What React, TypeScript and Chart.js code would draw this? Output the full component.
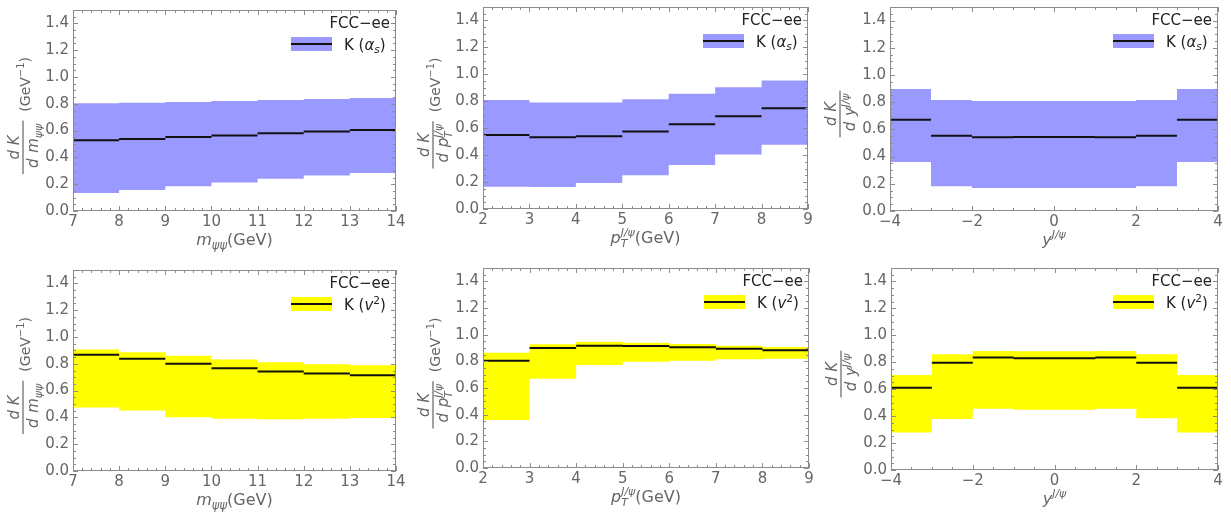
import React, { useEffect, useRef } from "react";
import { Chart, registerables } from "chart.js";

Chart.register(...registerables);

const FONT = '"DejaVu Sans", sans-serif';
const TEXT_GRAY = "#666666";
const FRAME_GRAY = "#8c8c8c";
const BLUE_BAND = "#9999ff";
const YELLOW_BAND = "#ffff00";

// ---- bin edges (x) ----
const massEdges = [7, 8, 9, 10, 11, 12, 13, 14];
const ptEdges = [2, 3, 4, 5, 6, 7, 8, 9];
const rapEdges = [-4, -3, -2, -1, 0, 1, 2, 3, 4];

// ---- tick labels ----
const massTicks = [7, 8, 9, 10, 11, 12, 13, 14];
const ptTicks = [2, 3, 4, 5, 6, 7, 8, 9];
const rapTicks = [-4, -2, 0, 2, 4];
const yTicks = [0, 0.2, 0.4, 0.6, 0.8, 1.0, 1.2, 1.4];

// ---- K(alpha_s) ----
const massAsCentral = [0.528, 0.538, 0.553, 0.563, 0.58, 0.593, 0.605];
const massAsUpper = [0.805, 0.808, 0.813, 0.82, 0.828, 0.835, 0.843];
const massAsLower = [0.135, 0.157, 0.185, 0.213, 0.24, 0.265, 0.283];

const ptAsCentral = [0.55, 0.533, 0.54, 0.575, 0.63, 0.689, 0.748];
const ptAsUpper = [0.81, 0.79, 0.79, 0.815, 0.855, 0.905, 0.954];
const ptAsLower = [0.166, 0.164, 0.193, 0.25, 0.327, 0.404, 0.478];

const rapAsCentral = [0.671, 0.553, 0.543, 0.545, 0.545, 0.543, 0.553, 0.671];
const rapAsUpper = [0.897, 0.816, 0.808, 0.808, 0.808, 0.808, 0.816, 0.897];
const rapAsLower = [0.361, 0.182, 0.17, 0.17, 0.17, 0.17, 0.182, 0.361];

// ---- K(v^2) ----
const massV2Central = [0.867, 0.837, 0.8, 0.767, 0.742, 0.727, 0.715];
const massV2Upper = [0.907, 0.887, 0.86, 0.832, 0.812, 0.797, 0.79];
const massV2Lower = [0.473, 0.451, 0.401, 0.389, 0.386, 0.389, 0.396];

const ptV2Central = [0.805, 0.9, 0.9175, 0.915, 0.905, 0.895, 0.8825];
const ptV2Upper = [0.865, 0.9275, 0.9475, 0.94, 0.93, 0.9175, 0.9075];
const ptV2Lower = [0.36, 0.67, 0.7725, 0.7975, 0.805, 0.815, 0.82];

const rapV2Central = [0.61, 0.797, 0.835, 0.83, 0.83, 0.835, 0.797, 0.61];
const rapV2Upper = [0.706, 0.859, 0.884, 0.881, 0.881, 0.884, 0.859, 0.706];
const rapV2Lower = [0.279, 0.378, 0.454, 0.447, 0.447, 0.454, 0.385, 0.279];

// ---- rich text helpers ----
type Seg = { t: string; size: number; italic?: boolean; dy?: number; dx?: number; stack?: boolean };

function segFont(s: Seg) {
  return `${s.italic ? "italic " : ""}${s.size}px ${FONT}`;
}
function measureSegs(ctx: CanvasRenderingContext2D, segs: Seg[]) {
  let x = 0, lastStart = 0, lastW = 0;
  for (const s of segs) {
    ctx.font = segFont(s);
    const w = ctx.measureText(s.t).width + (s.dx || 0);
    if (s.stack) {
      x = lastStart + Math.max(lastW, w);
      lastW = Math.max(lastW, w);
    } else {
      lastStart = x;
      lastW = w;
      x += w;
    }
  }
  return x;
}
function drawSegs(ctx: CanvasRenderingContext2D, segs: Seg[], x0: number, y: number) {
  let x = x0, lastStart = x0, lastW = 0;
  ctx.textAlign = "left";
  ctx.textBaseline = "alphabetic";
  for (const s of segs) {
    ctx.font = segFont(s);
    const w = ctx.measureText(s.t).width + (s.dx || 0);
    if (s.stack) {
      ctx.fillText(s.t, lastStart + (s.dx || 0), y + (s.dy || 0));
      x = lastStart + Math.max(lastW, w);
      lastW = Math.max(lastW, w);
    } else {
      ctx.fillText(s.t, x + (s.dx || 0), y + (s.dy || 0));
      lastStart = x;
      lastW = w;
      x += w;
    }
  }
}

// ---- label definitions ----
const massXTitle: Seg[] = [
  { t: "m", size: 16, italic: true },
  { t: "ψψ", size: 11.5, italic: true, dy: 4 },
  { t: "(GeV)", size: 16 },
];
const ptXTitle: Seg[] = [
  { t: "p", size: 16, italic: true },
  { t: "T", size: 11, italic: true, dy: 4 },
  { t: "J/ψ", size: 11, italic: true, dy: -7, stack: true },
  { t: "(GeV)", size: 16 },
];
const rapXTitle: Seg[] = [
  { t: "y", size: 16, italic: true },
  { t: "J/ψ", size: 11, italic: true, dy: -7 },
];
const yNum: Seg[] = [{ t: "d K", size: 15, italic: true }];
const massYDen: Seg[] = [
  { t: "d ", size: 15, italic: true, dx: 3 },
  { t: "m", size: 15, italic: true, dx: 1 },
  { t: "ψψ", size: 11, italic: true, dy: 4 },
];
const ptYDen: Seg[] = [
  { t: "d ", size: 15, italic: true, dx: 3 },
  { t: "p", size: 15, italic: true, dx: 1 },
  { t: "T", size: 10.5, italic: true, dy: 4 },
  { t: "J/ψ", size: 10.5, italic: true, dy: -6, stack: true },
];
const rapYDen: Seg[] = [
  { t: "d ", size: 15, italic: true, dx: 3 },
  { t: "y", size: 15, italic: true, dx: 1 },
  { t: "J/ψ", size: 10.5, italic: true, dy: -6 },
];
const gevUnits: Seg[] = [
  { t: "(GeV", size: 14 },
  { t: "−1", size: 10, dy: -6 },
  { t: ")", size: 14 },
];
const asLegend: Seg[] = [
  { t: "K (", size: 15 },
  { t: "α", size: 15, italic: true },
  { t: "s", size: 10.5, italic: true, dy: 3 },
  { t: ")", size: 15 },
];
const v2Legend: Seg[] = [
  { t: "K (", size: 15 },
  { t: "v", size: 15, italic: true },
  { t: "2", size: 10.5, dy: -6 },
  { t: ")", size: 15 },
];

type PanelCfg = {
  x: number; y: number; w: number; h: number;
  yw: number; padR: number; padT: number; xh: number;
  edges: number[]; central: number[]; upper: number[]; lower: number[];
  xTicks: number[]; xMinor: number; band: string;
  xTitle: Seg[]; yDen: Seg[]; yUnits: Seg[] | null; legend: Seg[];
};

const panels: PanelCfg[] = [
  { x: 0, y: 0, w: 410, h: 256, yw: 73, padR: 14, padT: 10, xh: 45,
    edges: massEdges, central: massAsCentral, upper: massAsUpper, lower: massAsLower,
    xTicks: massTicks, xMinor: 0.2, band: BLUE_BAND, xTitle: massXTitle, yDen: massYDen, yUnits: gevUnits, legend: asLegend },
  { x: 410, y: 0, w: 410, h: 256, yw: 73, padR: 12, padT: 7, xh: 47,
    edges: ptEdges, central: ptAsCentral, upper: ptAsUpper, lower: ptAsLower,
    xTicks: ptTicks, xMinor: 0.2, band: BLUE_BAND, xTitle: ptXTitle, yDen: ptYDen, yUnits: gevUnits, legend: asLegend },
  { x: 820, y: 0, w: 411, h: 256, yw: 70, padR: 13, padT: 7, xh: 45,
    edges: rapEdges, central: rapAsCentral, upper: rapAsUpper, lower: rapAsLower,
    xTicks: rapTicks, xMinor: 0.5, band: BLUE_BAND, xTitle: rapXTitle, yDen: rapYDen, yUnits: null, legend: asLegend },
  { x: 0, y: 256, w: 410, h: 256, yw: 73, padR: 14, padT: 14, xh: 41,
    edges: massEdges, central: massV2Central, upper: massV2Upper, lower: massV2Lower,
    xTicks: massTicks, xMinor: 0.2, band: YELLOW_BAND, xTitle: massXTitle, yDen: massYDen, yUnits: gevUnits, legend: v2Legend },
  { x: 410, y: 256, w: 410, h: 256, yw: 73, padR: 11, padT: 12, xh: 44,
    edges: ptEdges, central: ptV2Central, upper: ptV2Upper, lower: ptV2Lower,
    xTicks: ptTicks, xMinor: 0.2, band: YELLOW_BAND, xTitle: ptXTitle, yDen: ptYDen, yUnits: gevUnits, legend: v2Legend },
  { x: 820, y: 256, w: 411, h: 256, yw: 71, padR: 13, padT: 12, xh: 42,
    edges: rapEdges, central: rapV2Central, upper: rapV2Upper, lower: rapV2Lower,
    xTicks: rapTicks, xMinor: 0.5, band: YELLOW_BAND, xTitle: rapXTitle, yDen: rapYDen, yUnits: null, legend: v2Legend },
];

const stepPts = (edges: number[], vals: number[]) =>
  vals.flatMap((v, i) => [{ x: edges[i], y: v }, { x: edges[i + 1], y: v }]);
const segPts = (edges: number[], vals: number[]) =>
  vals.flatMap((v, i) => [
    { x: edges[i], y: v },
    { x: edges[i + 1], y: v },
    { x: edges[i + 1], y: null as any },
  ]);

function makeDecor(cfg: PanelCfg) {
  return {
    id: "decor",
    afterDatasetsDraw(chart: any) {
      const ctx: CanvasRenderingContext2D = chart.ctx;
      const ca = chart.chartArea;
      const xs = chart.scales.x, ys = chart.scales.y;
      ctx.save();
      ctx.strokeStyle = FRAME_GRAY;
      ctx.lineWidth = 1;
      ctx.strokeRect(Math.round(ca.left) + 0.5, Math.round(ca.top) + 0.5,
        Math.round(ca.right) - Math.round(ca.left) - 1, Math.round(ca.bottom) - Math.round(ca.top) - 1);
      ctx.beginPath();
      const xMin = cfg.edges[0], xMax = cfg.edges[cfg.edges.length - 1];
      const nx = Math.round((xMax - xMin) / cfg.xMinor);
      for (let i = 0; i <= nx; i++) {
        const v = xMin + i * cfg.xMinor;
        const major = cfg.xTicks.some((t) => Math.abs(t - v) < 1e-6);
        const L = major ? 5 : 3;
        const px = Math.round(xs.getPixelForValue(v)) + 0.5;
        ctx.moveTo(px, ca.bottom); ctx.lineTo(px, ca.bottom - L);
        ctx.moveTo(px, ca.top); ctx.lineTo(px, ca.top + L);
      }
      for (let i = 0; i <= 30; i++) {
        const v = i * 0.05;
        const major = i % 4 === 0;
        const L = major ? 5 : 3;
        const py = Math.round(ys.getPixelForValue(v)) + 0.5;
        ctx.moveTo(ca.left, py); ctx.lineTo(ca.left + L, py);
        ctx.moveTo(ca.right, py); ctx.lineTo(ca.right - L, py);
      }
      ctx.stroke();
      ctx.restore();
    },
    afterDraw(chart: any) {
      const ctx: CanvasRenderingContext2D = chart.ctx;
      const ca = chart.chartArea;
      ctx.save();
      // x title
      ctx.fillStyle = TEXT_GRAY;
      const xw = measureSegs(ctx, cfg.xTitle);
      drawSegs(ctx, cfg.xTitle, (ca.left + ca.right) / 2 - xw / 2, ca.bottom + 34);
      // y title (rotated)
      const numW = measureSegs(ctx, yNum);
      const denW = measureSegs(ctx, cfg.yDen);
      const fracW = Math.max(numW, denW) + 6;
      const unitsW = cfg.yUnits ? measureSegs(ctx, cfg.yUnits) : 0;
      const gap = cfg.yUnits ? 9 : 0;
      const total = fracW + gap + unitsW;
      const cy = (ca.top + ca.bottom) / 2 + 5;
      ctx.save();
      ctx.translate(ca.left - 50, cy + total / 2);
      ctx.rotate(-Math.PI / 2);
      drawSegs(ctx, yNum, (fracW - numW) / 2, -4);
      drawSegs(ctx, cfg.yDen, (fracW - denW) / 2, 15);
      ctx.fillRect(0, -0.6, fracW, 1.2);
      if (cfg.yUnits) drawSegs(ctx, cfg.yUnits, fracW + gap, 7);
      ctx.restore();
      // legend
      const r = ca.right, t = ca.top;
      ctx.fillStyle = "#222222";
      ctx.font = `15px ${FONT}`;
      ctx.textAlign = "right";
      ctx.textBaseline = "middle";
      ctx.fillText("FCC−ee", r - 6, t + 14);
      ctx.fillStyle = cfg.band;
      ctx.fillRect(r - 105, t + 27, 41, 14);
      ctx.strokeStyle = "#111111";
      ctx.lineWidth = 2;
      ctx.beginPath();
      ctx.moveTo(r - 105, t + 34);
      ctx.lineTo(r - 64, t + 34);
      ctx.stroke();
      ctx.fillStyle = "#222222";
      drawSegs(ctx, cfg.legend, r - 52, t + 39.5);
      ctx.restore();
    },
  };
}

function Panel({ cfg }: { cfg: PanelCfg }) {
  const ref = useRef<HTMLCanvasElement>(null);
  useEffect(() => {
    const xMin = cfg.edges[0], xMax = cfg.edges[cfg.edges.length - 1];
    const chart = new Chart(ref.current as HTMLCanvasElement, {
      type: "line",
      data: {
        datasets: [
          { data: segPts(cfg.edges, cfg.central) as any, borderWidth: 2, borderColor: "#111111", pointRadius: 0, fill: false, spanGaps: false, order: 0 },
          { data: stepPts(cfg.edges, cfg.lower) as any, borderWidth: 0, borderColor: "transparent", pointRadius: 0, fill: false, order: 1 },
          { data: stepPts(cfg.edges, cfg.upper) as any, borderWidth: 0, borderColor: "transparent", pointRadius: 0, fill: "-1", backgroundColor: cfg.band, order: 1 },
        ],
      },
      options: {
        responsive: false,
        animation: false,
        events: [],
        layout: { padding: { left: 0, right: cfg.padR, top: cfg.padT, bottom: 0 } },
        plugins: { legend: { display: false }, tooltip: { enabled: false } },
        scales: {
          x: {
            type: "linear",
            min: xMin,
            max: xMax,
            border: { display: false },
            grid: { display: false, drawTicks: false },
            ticks: {
              color: TEXT_GRAY,
              font: { family: FONT, size: 15 },
              padding: 2,
              autoSkip: false,
              maxRotation: 0,
              callback: (v: any) => (Number(v) < 0 ? "−" + Math.abs(Number(v)) : String(v)),
            },
            afterBuildTicks: (s: any) => { s.ticks = cfg.xTicks.map((v) => ({ value: v })); },
            afterFit: (s: any) => { s.height = cfg.xh; s.paddingLeft = 0; s.paddingRight = 0; },
          },
          y: {
            type: "linear",
            min: 0,
            max: 1.5,
            border: { display: false },
            grid: { display: false, drawTicks: false },
            ticks: {
              color: TEXT_GRAY,
              font: { family: FONT, size: 15 },
              padding: 4,
              callback: (v: any) => Number(v).toFixed(1),
            },
            afterBuildTicks: (s: any) => { s.ticks = yTicks.map((v) => ({ value: v })); },
            afterFit: (s: any) => { s.width = cfg.yw; s.paddingTop = 0; s.paddingBottom = 0; },
          },
        },
      } as any,
      plugins: [makeDecor(cfg)],
    });
    return () => chart.destroy();
  }, []);
  return (
    <canvas
      ref={ref}
      width={cfg.w}
      height={cfg.h}
      style={{ position: "absolute", left: cfg.x, top: cfg.y, width: cfg.w, height: cfg.h }}
    />
  );
}

export default function App() {
  return (
    <div style={{ position: "fixed", left: 0, top: 0, width: 1231, height: 512, background: "#ffffff" }}>
      {panels.map((p, i) => (
        <Panel key={i} cfg={p} />
      ))}
    </div>
  );
}
